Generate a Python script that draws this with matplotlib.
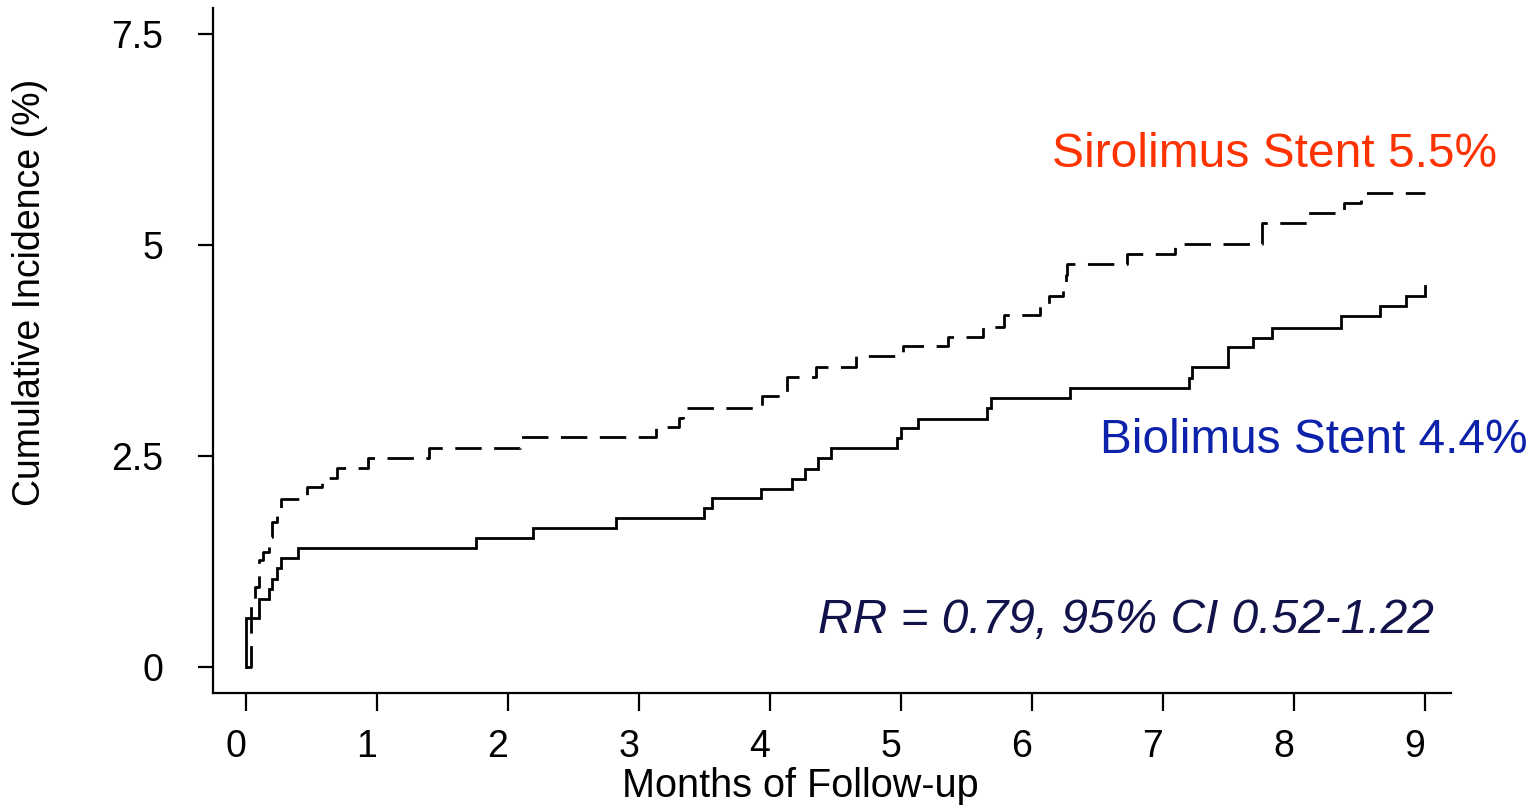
import matplotlib
matplotlib.use("Agg")
import matplotlib.pyplot as plt
import matplotlib.transforms as mtrans

plt.rcParams['font.family'] = ['Liberation Sans', 'DejaVu Sans']

# Kaplan-Meier style cumulative incidence (%) by month of follow-up
biolimus_months = [0, 0.005, 0.10, 0.18, 0.20, 0.24, 0.27, 0.40, 1.76, 2.19,
                   2.83, 3.50, 3.56, 3.93, 4.17, 4.27, 4.37, 4.47, 4.97, 5.00,
                   5.13, 5.66, 5.69, 6.29, 7.20, 7.22, 7.50, 7.69, 7.83, 8.36,
                   8.66, 8.86, 9.0]
biolimus_pct = [0, 0.58, 0.80, 0.92, 1.04, 1.17, 1.29, 1.41, 1.53, 1.65,
                1.76, 1.88, 2.00, 2.11, 2.23, 2.35, 2.47, 2.60, 2.71, 2.83,
                2.94, 3.07, 3.19, 3.31, 3.42, 3.55, 3.79, 3.90, 4.02, 4.16,
                4.28, 4.40, 4.51]

sirolimus_months = [0, 0.04, 0.07, 0.10, 0.13, 0.18, 0.20, 0.24, 0.27, 0.47,
                    0.58, 0.70, 0.93, 1.40, 2.09, 3.13, 3.31, 3.34, 3.94, 4.13,
                    4.35, 4.66, 5.02, 5.36, 5.63, 5.79, 6.06, 6.13, 6.24, 6.26,
                    6.27, 6.73, 7.09, 7.76, 8.11, 8.38, 8.51, 9.0]
sirolimus_pct = [0, 0.79, 0.95, 1.27, 1.36, 1.54, 1.72, 1.88, 1.99, 2.13,
                 2.24, 2.36, 2.48, 2.59, 2.72, 2.84, 2.95, 3.07, 3.21, 3.44,
                 3.56, 3.69, 3.80, 3.91, 4.03, 4.17, 4.29, 4.40, 4.53, 4.65,
                 4.77, 4.89, 5.01, 5.26, 5.38, 5.50, 5.62, 5.62]

x_ticks = [0, 1, 2, 3, 4, 5, 6, 7, 8, 9]
y_ticks = [0, 2.5, 5, 7.5]
y_tick_labels = ["0", "2.5", "5", "7.5"]

W, H = 1537, 808
fig = plt.figure(figsize=(W / 100, H / 100), dpi=100)


def fx(px):
    return px / W


def fy(py):
    return 1 - py / H


ax = fig.add_axes([fx(213), fy(693), fx(1451) - fx(213), fy(8) - fy(693)])

ax.plot(biolimus_months, biolimus_pct, drawstyle='steps-post',
        color='black', lw=2.0, solid_joinstyle='miter')
ax.plot(sirolimus_months, sirolimus_pct, drawstyle='steps-post',
        color='black', lw=2.0, dashes=(9.5, 4.5))

ax.set_xlim(-0.25, 9.2)
ax.set_ylim(-0.31, 7.81)

for side in ('top', 'right'):
    ax.spines[side].set_visible(False)
for side in ('left', 'bottom'):
    ax.spines[side].set_linewidth(1.6)

ax.set_xticks(x_ticks)
ax.set_xticklabels([str(t) for t in x_ticks])
ax.set_yticks(y_ticks)
ax.set_yticklabels(y_tick_labels)
ax.tick_params(axis='x', length=13, width=1.6, pad=13, labelsize=27)
ax.tick_params(axis='y', length=11, width=1.6, pad=25, labelsize=27)

shift = mtrans.ScaledTranslation(-10 / 100, 0, fig.dpi_scale_trans)
for lab in ax.get_xticklabels():
    lab.set_transform(lab.get_transform() + shift)

fig.text(fx(800), fy(786), "Months of Follow-up", fontsize=28.5,
         ha='center', va='center')
fig.text(fx(30), fy(292), "Cumulative Incidence (%)", fontsize=27,
         rotation=90, ha='center', va='center')

fig.text(fx(1497), fy(167), "Sirolimus Stent 5.5%", fontsize=34.5,
         color='#FF3300', ha='right', va='baseline')
fig.text(fx(1100), fy(453), "Biolimus Stent 4.4%", fontsize=34.4,
         color='#0D22AA', ha='left', va='baseline')
fig.text(fx(818), fy(633), "RR = 0.79, 95% CI 0.52-1.22", fontsize=34.5,
         color='#11134A', style='italic', ha='left', va='baseline')

fig.savefig("out.png", dpi=100)
